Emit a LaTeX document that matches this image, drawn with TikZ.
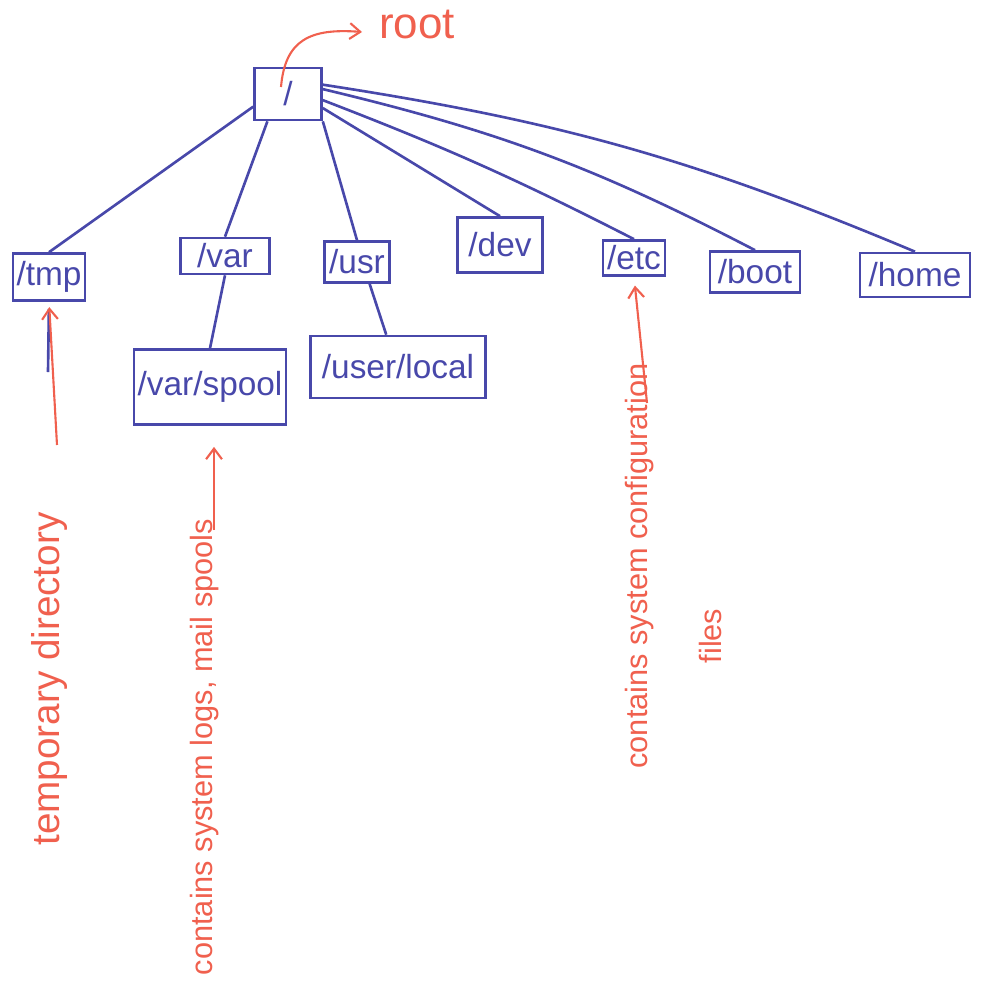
\documentclass[tikz,border=0pt]{standalone}
\usepackage{fontspec}
\setmainfont{Liberation Sans}
\usetikzlibrary{positioning,arrows.meta}
\definecolor{pen}{RGB}{72,72,170}
\definecolor{marker}{RGB}{240,96,78}
\tikzstyle{dbox}=[rectangle, draw=pen, line width=1.5pt, text=pen, inner sep=2pt,
                  font=\fontsize{19}{21}\selectfont]
\tikzstyle{dline}=[-, draw=pen, line width=1.5pt]
\tikzstyle{note}=[text=marker, rotate=90, inner sep=1pt]
\tikzstyle{narrow}=[-{Straight Barb[length=6pt,width=9pt]}, draw=marker, line width=1.2pt]

\begin{document}
\begin{tikzpicture}[x=0.02cm,y=-0.02cm]
\useasboundingbox (0,0) rectangle (982,981);

\node (ROOT) [dbox, minimum width=1.34cm, minimum height=1.04cm] at (288,94) {/};
\node (ROOTLBL) [text=marker, font=\fontsize{25}{27}\selectfont] at (417,25) {root};
\coordinate (ROOTTAIL) at (281,87);
\coordinate (ROOTTIP) at (362,32);
\draw[narrow] (ROOTTAIL) .. controls (285,40) and (310,28) .. (ROOTTIP);

\node (TMP) [dbox, minimum width=1.36cm, minimum height=0.94cm] at (49,277) {/tmp};
\node (VAR) [dbox, minimum width=1.78cm, minimum height=0.72cm] at (225,256) {/var};
\node (USR) [dbox, minimum width=1.30cm, minimum height=0.82cm] at (357,262) {/usr};
\node (DEV) [dbox, minimum width=1.70cm, minimum height=1.10cm] at (500,245) {/dev};
\node (ETC) [dbox, minimum width=1.24cm, minimum height=0.70cm] at (634,258) {/etc};
\node (BOOT) [dbox, minimum width=1.80cm, minimum height=0.82cm] at (755,272) {/boot};
\node (HOME) [dbox, minimum width=2.20cm, minimum height=0.88cm] at (915,275) {/home};

\node (SPOOL) [dbox, minimum width=2.90cm, minimum height=1.50cm] at (210,387) {/var/spool};
\node (LOCAL) [dbox, minimum width=3.50cm, minimum height=1.24cm] at (398,367) {/user/local};

\draw[dline] (ROOT.200) -- (TMP.north);
\draw[dline] (ROOT.233) -- (VAR.north);
\draw[dline] (ROOT.south east) -- (USR.north);
\draw[dline] (ROOT.338) -- (DEV.north);
\draw[dline] (ROOT.350) to[bend left=3] (ETC.north);
\draw[dline] (ROOT.8) to[bend left=7] (BOOT.north);
\draw[dline] (ROOT.15) to[bend left=7] (HOME.north);
\draw[dline] (VAR.south) -- (SPOOL.north);
\draw[dline] (USR.300) -- (LOCAL.110);

% notes
\coordinate (TMPSTUB) at (48,372);
\draw[dline, shorten <=4pt] (TMP.south) -- (TMPSTUB);
\coordinate (TMPTAIL) at (57,445);
\draw[narrow, shorten >=3pt] (TMPTAIL) -- (TMP.south);
\node (TMPNOTE) [note, font=\fontsize{22}{24}\selectfont] at (50,679) {temporary directory};

\coordinate (SPOOLTAIL) at (214,530);
\draw[narrow, shorten >=12pt] (SPOOLTAIL) -- (SPOOL.south -| SPOOLTAIL);
\node (SPOOLNOTE) [note, font=\fontsize{17.5}{19}\selectfont] at (205,747) {contains system logs, mail spools};

\coordinate (ETCTAIL) at (647,403);
\draw[narrow, shorten >=5pt] (ETCTAIL) -- (ETC.south);
\node (ETCNOTE) [note, font=\fontsize{17.5}{19}\selectfont] at (640,566) {contains system configuration};
\node (ETCFILES) [note, font=\fontsize{17.5}{19}\selectfont] at (710,636) {files};

\end{tikzpicture}
\end{document}
